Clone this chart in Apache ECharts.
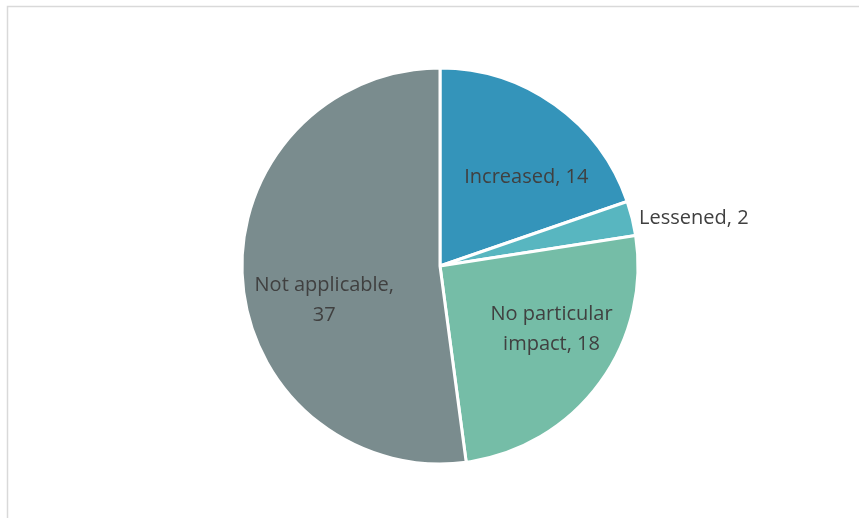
<!DOCTYPE html>
<html>
<head>
<meta charset="utf-8">
<script src="https://cdn.jsdelivr.net/npm/echarts@6/dist/echarts.min.js"></script>
<style>
  html, body { margin: 0; padding: 0; background: #fff; }
  #chart { width: 859px; height: 518px; }
</style>
</head>
<body>
<div id="chart"></div>
<script>
// Survey responses: effect on workload
const categories = ['Increased', 'Lessened', 'No particular impact', 'Not applicable'];
const values = [14, 2, 18, 37];
const labelTexts = ['Increased, 14', 'Lessened, 2', 'No particular\nimpact, 18', 'Not applicable,\n37'];
const colors = ['#3494BA', '#58B6C0', '#75BDA7', '#7A8C8E'];

// Small nudges for the inside labels so they sit where the reader expects
const labelNudge = [[12, 16], [0, 0], [9, -13], [12, 26]];

const chart = echarts.init(document.getElementById('chart'), null, { renderer: 'canvas' });

const fontFamily = '"Open Sans", Lato, sans-serif';
const textStyle = { color: '#404040', fontSize: 20, fontFamily, lineHeight: 30 };

// Slices; the thin "Lessened" slice carries its own label just outside the rim
const sliceData = categories.map((name, i) => {
  const outside = name === 'Lessened';
  return {
    name,
    value: values[i],
    itemStyle: { color: colors[i] },
    label: outside
      ? Object.assign({ show: true, position: 'outside', formatter: labelTexts[i] }, textStyle)
      : { show: false },
    labelLine: { show: false, length: 2, length2: 0 }
  };
});

// Label-only ring for the inside labels (transparent, wider so labels sit further out)
const labelData = categories.map((name, i) => ({
  name,
  value: values[i],
  label: { show: name !== 'Lessened' }
}));

chart.setOption({
  animation: false,
  backgroundColor: '#ffffff',
  graphic: [{
    type: 'rect',
    shape: { x: 7.5, y: 6.5, width: 1000, height: 1000 },
    style: { fill: 'none', stroke: '#d9d9d9', lineWidth: 1.5 },
    silent: true
  }],
  series: [
    {
      type: 'pie',
      center: [440, 266],
      radius: [0, 198],
      startAngle: 90,
      clockwise: true,
      itemStyle: { borderColor: '#ffffff', borderWidth: 3 },
      emphasis: { disabled: true },
      data: sliceData
    },
    {
      type: 'pie',
      center: [440, 266],
      radius: [0, 250],
      startAngle: 90,
      clockwise: true,
      silent: true,
      itemStyle: { color: 'rgba(0,0,0,0)', borderWidth: 0 },
      label: Object.assign({
        position: 'inside',
        formatter: p => labelTexts[p.dataIndex],
        align: 'center'
      }, textStyle),
      labelLine: { show: false },
      labelLayout: p => ({ dx: labelNudge[p.dataIndex][0], dy: labelNudge[p.dataIndex][1] }),
      emphasis: { disabled: true },
      data: labelData
    }
  ]
});
</script>
</body>
</html>
